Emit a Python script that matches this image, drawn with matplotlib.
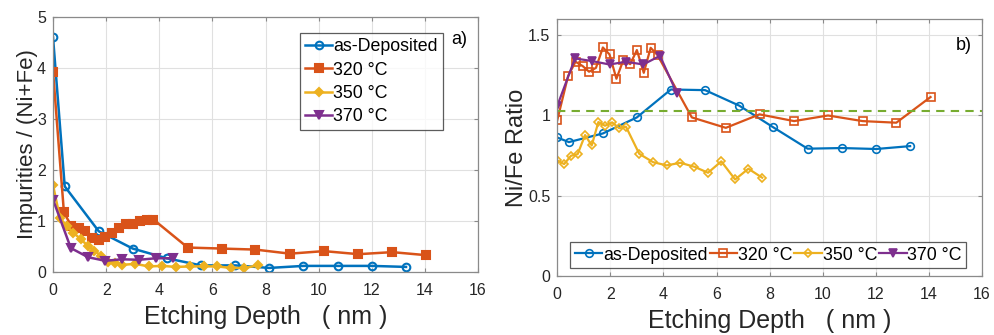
import matplotlib
matplotlib.use("Agg")
import matplotlib.pyplot as plt
from matplotlib.ticker import FuncFormatter

plt.rcParams['font.family'] = ['Liberation Sans', 'DejaVu Sans']

# ---- data: panel a) impurities / (Ni+Fe) ----
x_dep = [0, 0.44, 1.72, 3.0, 4.28, 5.57, 6.86, 8.14, 9.43, 10.72, 12.01, 13.29]
imp_dep = [4.60, 1.68, 0.80, 0.46, 0.27, 0.13, 0.13, 0.08, 0.12, 0.12, 0.12, 0.10]

x_320 = [0, 0.41, 0.69, 0.96, 1.2, 1.46, 1.72, 1.97, 2.23, 2.49, 2.75, 3.0, 3.26,
         3.52, 3.78, 5.07, 6.35, 7.62, 8.92, 10.2, 11.5, 12.77, 14.06]
imp_320 = [3.93, 1.17, 0.90, 0.86, 0.81, 0.67, 0.62, 0.69, 0.76, 0.86, 0.94, 0.95, 1.01,
           1.02, 1.03, 0.48, 0.46, 0.44, 0.36, 0.41, 0.35, 0.39, 0.33]

x_350 = [0, 0.26, 0.52, 0.77, 1.05, 1.30, 1.55, 1.80, 2.07, 2.33, 2.59, 3.09, 3.61,
         4.12, 4.64, 5.17, 5.68, 6.18, 6.70, 7.20, 7.72]
imp_350 = [1.70, 1.06, 0.90, 0.77, 0.64, 0.52, 0.42, 0.32, 0.19, 0.18, 0.14, 0.16, 0.11,
           0.12, 0.10, 0.11, 0.11, 0.11, 0.08, 0.08, 0.13]

x_370 = [0, 0.67, 1.32, 1.97, 2.59, 3.24, 3.87, 4.5]
imp_370 = [1.42, 0.47, 0.29, 0.22, 0.25, 0.24, 0.27, 0.27]

# ---- data: panel b) Ni/Fe ratio ----
rat_dep = [0.862, 0.833, 0.887, 0.987, 1.161, 1.157, 1.060, 0.925, 0.792, 0.796, 0.790, 0.808]
rat_320 = [0.968, 1.245, 1.334, 1.307, 1.272, 1.296, 1.423, 1.380, 1.228, 1.344, 1.319, 1.407, 1.265,
           1.421, 1.375, 0.987, 0.922, 1.006, 0.964, 0.999, 0.964, 0.954, 1.114]
rat_350 = [0.719, 0.696, 0.748, 0.758, 0.877, 0.812, 0.958, 0.935, 0.956, 0.920, 0.929, 0.760, 0.708,
           0.688, 0.704, 0.679, 0.642, 0.713, 0.600, 0.667, 0.611]
rat_370 = [1.058, 1.355, 1.338, 1.317, 1.334, 1.317, 1.371, 1.141]
ref_ratio = 1.026

labels = ['as-Deposited', '320 °C', '350 °C', '370 °C']
colors = ['#0072BD', '#D95319', '#EDB120', '#7E2F8E']
markers = ['o', 's', 'D', 'v']
green = '#77AC30'
axcol = '#262626'

fig = plt.figure(figsize=(9.95, 3.35), dpi=100)
ax1 = fig.add_axes([0.0533, 0.188, 0.4271, 0.761])
ax2 = fig.add_axes([0.560, 0.177, 0.427, 0.766])


def style(ax):
    ax.grid(True, color='#e0e0e0', linewidth=0.8)
    ax.set_axisbelow(True)
    for s in ax.spines.values():
        s.set_color('#8a8a8a')
        s.set_linewidth(0.9)
    ax.tick_params(direction='in', length=3, top=True, right=True,
                   colors='#8a8a8a', labelcolor=axcol, labelsize=11.5, width=0.8)
    ax.tick_params(axis='x', pad=8)
    ax.tick_params(axis='y', pad=5)
    ax.xaxis.set_major_formatter(FuncFormatter(lambda v, p: '%g' % v))
    ax.yaxis.set_major_formatter(FuncFormatter(lambda v, p: '%g' % v))


# panel a
xs = [x_dep, x_320, x_350, x_370]
ya = [imp_dep, imp_320, imp_350, imp_370]
for i in range(4):
    filled = i != 0
    ax1.plot(xs[i], ya[i], color=colors[i], marker=markers[i], linewidth=1.8,
             markersize=5.5 if i != 2 else 4.5,
             markerfacecolor=colors[i] if filled else 'none',
             markeredgewidth=1.5, label=labels[i])
ax1.set_xlim(0, 16)
ax1.set_ylim(0, 5)
ax1.set_xticks(range(0, 17, 2))
ax1.set_yticks(range(0, 6))
style(ax1)
ax1.set_xlabel('Etching Depth   ( nm )', fontsize=18, color=axcol, labelpad=5)
ax1.set_ylabel('Impurities / (Ni+Fe)', fontsize=16, color=axcol, labelpad=-1)
leg1 = ax1.legend(loc='upper right', bbox_to_anchor=(0.918, 0.937), fontsize=12.8,
                  frameon=True, fancybox=False, edgecolor='#333333', handlelength=1.55,
                  handletextpad=0.05, borderpad=0.3, labelspacing=0.35, borderaxespad=0)
leg1.get_frame().set_linewidth(0.9)
ax1.text(0.975, 0.945, 'a)', transform=ax1.transAxes, ha='right', va='top',
         fontsize=13, color='black')

# panel b
yb = [rat_dep, rat_320, rat_350, rat_370]
for i in range(4):
    filled = i == 3
    ax2.plot(xs[i], yb[i], color=colors[i], marker=markers[i], linewidth=1.6,
             markersize=5.5 if i != 2 else 4.5,
             markerfacecolor=colors[i] if filled else 'none',
             markeredgewidth=1.2, label=labels[i])
ax2.axhline(ref_ratio, color=green, linestyle=(0, (4, 3)), linewidth=1.5)
ax2.set_xlim(0, 16)
ax2.set_ylim(0, 1.6)
ax2.set_xticks(range(0, 17, 2))
ax2.set_yticks([0, 0.5, 1, 1.5])
style(ax2)
ax2.set_xlabel('Etching Depth   ( nm )', fontsize=18, color=axcol, labelpad=5)
ax2.set_ylabel('Ni/Fe Ratio', fontsize=17, color=axcol, labelpad=0)
leg2 = ax2.legend(loc='lower center', bbox_to_anchor=(0.497, 0.03), ncol=4, fontsize=12.8,
                  frameon=True, fancybox=False, edgecolor='#333333', handlelength=1.55,
                  handletextpad=0.05, borderpad=0.25, columnspacing=0.1, borderaxespad=0)
leg2.get_frame().set_linewidth(0.9)
ax2.text(0.975, 0.93, 'b)', transform=ax2.transAxes, ha='right', va='top',
         fontsize=13, color='black')

fig.savefig('out.png', dpi=100)
